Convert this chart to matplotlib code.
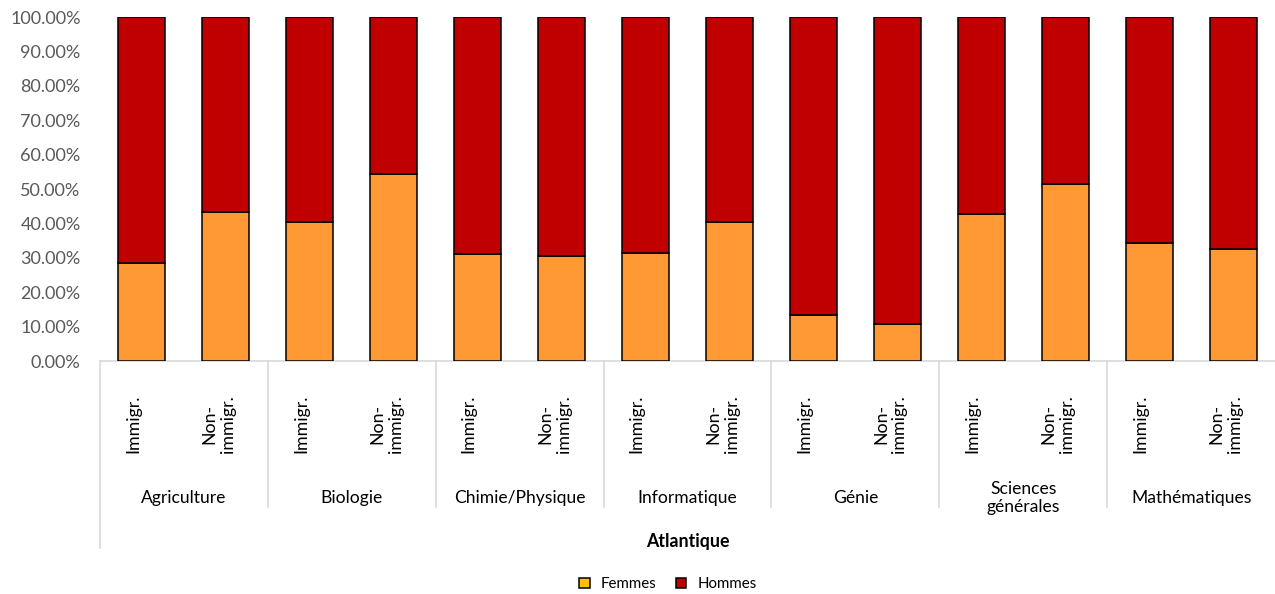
import matplotlib
matplotlib.use("Agg")
import matplotlib.pyplot as plt
from matplotlib.patches import Patch
from matplotlib.ticker import FuncFormatter

plt.rcParams['font.family'] = ['Lato', 'DejaVu Sans']

# Fields and the two population groups within each
fields = ["Agriculture", "Biologie", "Chimie/Physique", "Informatique",
          "Génie", "Sciences\ngénérales", "Mathématiques"]
groups = ["Immigr.", "Non-\nimmigr."]
region = "Atlantique"

# Share of women (%) per field, immigrant then non-immigrant
femmes = [28.6, 43.2,
          40.3, 54.3,
          31.0, 30.5,
          31.5, 40.3,
          13.4, 10.9,
          42.6, 51.4,
          34.2, 32.7]
hommes = [100 - f for f in femmes]

c_femmes = "#FF9933"
c_hommes = "#C00000"
c_femmes_legend = "#FFC000"
grid_grey = "#D9D9D9"

W, H = 1275, 594
fig = plt.figure(figsize=(W / 100, H / 100), dpi=100)
ax = fig.add_axes([100 / W, (H - 361) / H, 1175 / W, 344 / H])

n = len(femmes)
x = list(range(n))
ax.bar(x, femmes, width=0.56, color=c_femmes, edgecolor="black", linewidth=1.1, zorder=3)
ax.bar(x, hommes, bottom=femmes, width=0.56, color=c_hommes, edgecolor="black",
       linewidth=1.1, zorder=3)

ax.set_xlim(-0.5, n - 0.5)
ax.set_ylim(0, 100)
ax.set_yticks(range(0, 101, 10))
ax.yaxis.set_major_formatter(FuncFormatter(lambda v, p: f"{v:.2f}%"))
ax.tick_params(axis="y", length=0, pad=14, labelsize=13, labelcolor="#595959")
ax.set_xticks([])
for s in ("top", "right", "left"):
    ax.spines[s].set_visible(False)
ax.spines["bottom"].set_color(grid_grey)
ax.spines["bottom"].set_linewidth(1.2)

trans = ax.get_xaxis_transform()
px = 1 / 344  # one pixel in axes-height units

# Group labels (rotated) under each bar
for i in x:
    dx = -0.105 if i % 2 == 0 else -0.085
    ax.text(i + dx, -(453 - 361) * px, groups[i % 2], rotation=90, ha="center",
            va="bottom", fontsize=12.8, color="black", transform=trans, clip_on=False,
            linespacing=1.2)

# Field names centred under each pair of bars
for k, name in enumerate(fields):
    ax.text(2 * k + 0.5, -(498 - 361) * px, name, ha="center", va="center",
            fontsize=12.6, color="black", transform=trans, clip_on=False,
            linespacing=1.2)

# Separators between fields
for k in range(len(fields)):
    b = 2 * k - 0.5
    bottom = 548 if k == 0 else 507
    ax.plot([b, b], [0, -(bottom - 361) * px], color=grid_grey, lw=1.2,
            transform=trans, clip_on=False)

ax.text((n - 1) / 2, -(541 - 361) * px, region, ha="center", va="center",
        fontsize=12.8, fontweight="bold", transform=trans, clip_on=False)

handles = [Patch(facecolor=c_femmes_legend, edgecolor="black", linewidth=1.1),
           Patch(facecolor=c_hommes, edgecolor="black", linewidth=1.1)]
fig.legend(handles, ["Femmes", "Hommes"], loc="center", ncol=2,
           bbox_to_anchor=(668 / W, (H - 584) / H), frameon=False, fontsize=10.8,
           handlelength=0.7, handleheight=0.7, handletextpad=0.75, columnspacing=1.25)

fig.savefig("out.png", dpi=100, facecolor="white")
